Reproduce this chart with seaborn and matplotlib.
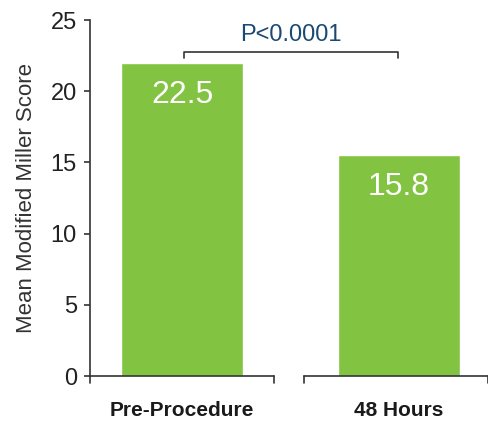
import matplotlib
matplotlib.use("Agg")
import matplotlib.pyplot as plt
import seaborn as sns
import pandas as pd

# values
groups = ["Pre-Procedure", "48 Hours"]
bar_heights = [22.0, 15.5]
bar_labels = ["22.5", "15.8"]
p_text = "P<0.0001"
y_ticks = [0, 5, 10, 15, 20, 25]

GREEN = "#82c341"
AXIS = "#333333"

sns.set_style("white")
plt.rcParams["font.family"] = ["Liberation Sans", "DejaVu Sans"]

df = pd.DataFrame({"group": groups, "score": bar_heights})

fig = plt.figure(figsize=(4.88, 4.23), dpi=100)
ax = fig.add_axes([90 / 488, 47 / 423, 398 / 488, 356 / 423])

sns.barplot(data=df, x="group", y="score", color=GREEN, width=0.562,
            saturation=1, ax=ax)

ax.set_xlim(-0.424, 1.41)
ax.set_ylim(0, 25)
ax.set_yticks(y_ticks)

for s in ["top", "right", "bottom"]:
    ax.spines[s].set_visible(False)
ax.spines["left"].set_color(AXIS)
ax.spines["left"].set_linewidth(1.2)

# broken baseline with small downward ticks
for x0, x1 in [(-0.424, 0.424), (0.562, 1.41)]:
    ax.plot([x0, x1], [0, 0], color=AXIS, lw=1.2, clip_on=False)
    for xe in (x0, x1):
        ax.plot([xe, xe], [0, -0.5], color=AXIS, lw=1.2, clip_on=False)

ax.tick_params(axis="y", length=4.5, width=1.2, color=AXIS, pad=5,
               labelsize=17, labelcolor="#222222", left=True)
ax.tick_params(axis="x", length=0, pad=18)
for lab in ax.get_xticklabels():
    lab.set_fontweight("bold")
    lab.set_fontsize(15)
    lab.set_color("#1a1a1a")

ax.set_xlabel("")
ax.set_ylabel("Mean Modified Miller Score", fontsize=16, color="#333333",
              labelpad=10)

for i, (h, t) in enumerate(zip(bar_heights, bar_labels)):
    ax.text(i, h - 2.25, t, color="white", fontsize=23, ha="center",
            va="center")

# significance bracket
ax.plot([0.01, 0.01, 0.995, 0.995], [22.33, 22.75, 22.75, 22.33],
        color=AXIS, lw=1.2, clip_on=False)
ax.text(0.5, 23.95, p_text, color="#1a4a72", fontsize=17, ha="center",
        va="center")

fig.savefig("out.png", dpi=100)
